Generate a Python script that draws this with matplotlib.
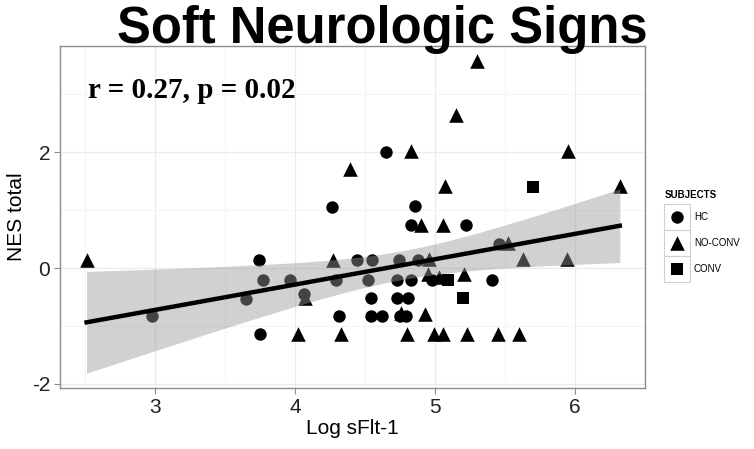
import numpy as np
from matplotlib import pyplot as plt
from matplotlib.patches import Rectangle

# values
hc_x = [2.98, 3.74, 3.77, 3.65, 3.75, 3.96, 4.06, 4.26, 4.29, 4.31, 4.44, 4.55, 4.52, 4.54, 4.54, 4.62,
        4.65, 4.74, 4.73, 4.73, 4.81, 4.75, 4.79, 4.83, 4.88, 4.86, 4.83, 4.98, 5.22, 5.41, 5.46]
hc_y = [-0.83, 0.13, -0.2, -0.54, -1.14, -0.2, -0.45, 1.06, -0.2, -0.83, 0.13, 0.13, -0.2, -0.52, -0.83, -0.83,
        2.0, 0.13, -0.2, -0.52, -0.52, -0.83, -0.83, -0.2, 0.13, 1.07, 0.74, -0.2, 0.74, -0.2, 0.42]

noconv_x = [2.51, 4.07, 4.02, 4.39, 4.27, 4.33, 4.80, 4.76, 4.83, 4.90, 4.96, 4.95, 5.03, 4.93, 4.99,
            5.06, 5.07, 5.06, 5.15, 5.30, 5.21, 5.23, 5.45, 5.52, 5.60, 5.63, 5.95, 5.94, 6.32]
noconv_y = [0.14, -0.52, -1.14, 1.70, 0.14, -1.14, -1.14, -0.78, 2.02, 0.75, 0.15, -0.1, -0.15, -0.8, -1.14,
            -1.14, 1.41, 0.75, 2.64, 3.57, -0.1, -1.14, -1.14, 0.44, -1.14, 0.15, 2.02, 0.15, 1.41]

conv_x = [5.09, 5.20, 5.70]
conv_y = [-0.2, -0.52, 1.40]

groups = ['HC', 'NO-CONV', 'CONV']
x_ticks = [3, 4, 5, 6]
y_ticks = [-2, 0, 2]
y_tick_labels = ['-2', '0', '2']

markers = {'HC': 'o', 'NO-CONV': '^', 'CONV': 's'}
sizes = {'HC': 80, 'NO-CONV': 110, 'CONV': 70}

plt.rcParams['font.family'] = ['Liberation Sans', 'DejaVu Sans']

fig = plt.figure(figsize=(7.54, 4.49), dpi=100)
W, H = 754, 449
ax = fig.add_axes([60 / W, 61 / H, 585 / W, 342 / H])

data = {'HC': (hc_x, hc_y), 'NO-CONV': (noconv_x, noconv_y), 'CONV': (conv_x, conv_y)}
for g in groups:
    x, y = data[g]
    ax.scatter(x, y, marker=markers[g], s=sizes[g], c='black', linewidths=0, zorder=3)

# linear fit with 95% confidence band (like geom_smooth(method='lm'))
all_x = np.array(hc_x + noconv_x + conv_x)
all_y = np.array(hc_y + noconv_y + conv_y)
n = len(all_x)
slope, inter = np.polyfit(all_x, all_y, 1)
resid = all_y - (inter + slope * all_x)
s_err = np.sqrt(np.sum(resid ** 2) / (n - 2))
xs = np.linspace(all_x.min(), all_x.max(), 100)
ys = inter + slope * xs
se = s_err * np.sqrt(1 / n + (xs - all_x.mean()) ** 2 / np.sum((all_x - all_x.mean()) ** 2))
t_val = 1.995
ax.fill_between(xs, ys - t_val * se, ys + t_val * se, color='#999999', alpha=0.45, linewidth=0, zorder=4)
ax.plot(xs, ys, color='black', lw=3.2, zorder=5)

ax.set_xlim(2.32, 6.5)
ax.set_ylim(-2.07, 3.83)
ax.set_xticks(x_ticks)
ax.set_yticks(y_ticks, y_tick_labels)
ax.set_xticks([2.5, 3.5, 4.5, 5.5, 6.5], minor=True)
ax.set_yticks([-1, 1, 3], minor=True)
ax.grid(True, which='major', color='#ebebeb', lw=0.9)
ax.grid(True, which='minor', color='#f3f3f3', lw=0.6)
ax.set_axisbelow(True)
for sp in ax.spines.values():
    sp.set_color('#8c8c8c')
    sp.set_linewidth(1.0)
ax.tick_params(which='major', length=4, color='#8c8c8c', labelsize=15, labelcolor='#222222', pad=3)
ax.tick_params(which='minor', length=0)

ax.set_xlabel('Log sFlt-1', fontsize=15, labelpad=2)
ax.set_ylabel('NES total', fontsize=15)
ax.yaxis.set_label_coords(-0.058, 0.5)

ax.text(0.048, 0.87, 'r = 0.27, p = 0.02', transform=ax.transAxes, fontsize=21,
        fontweight='bold', family=['Liberation Serif', 'DejaVu Serif'], va='center', ha='left')

fig.text(382 / W, 1 - 29 / H, 'Soft Neurologic Signs', fontsize=36.5, fontweight='bold',
         ha='center', va='center')

# legend drawn by hand in pixel coordinates
lax = fig.add_axes([655 / W, 160 / H, 95 / W, 110 / H])
lax.set_xlim(655, 750)
lax.set_ylim(270, 160)
lax.axis('off')
lax.text(665, 176, 'SUBJECTS', fontsize=7, fontweight='bold', va='center', ha='left')
for i, g in enumerate(groups):
    cy = 198 + i * 26
    lax.add_patch(Rectangle((664, cy - 13), 26, 26, facecolor='white', edgecolor='#d0d0d0', lw=0.8))
    lax.scatter([677], [cy], marker=markers[g], s=sizes[g], c='black', linewidths=0)
    lax.text(694, cy, g, fontsize=7, va='center', ha='left')

fig.savefig('out.png', dpi=100)
